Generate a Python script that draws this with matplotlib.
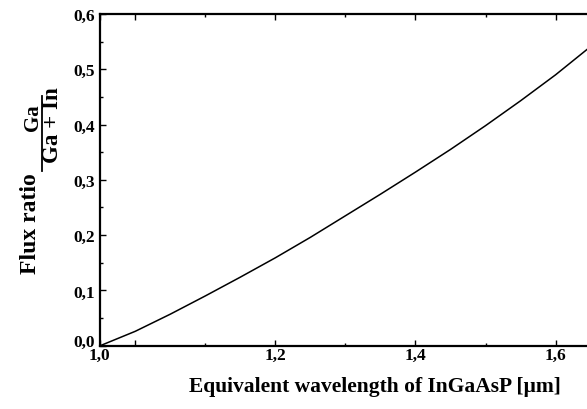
import numpy as np
import matplotlib
matplotlib.use('Agg')
import matplotlib.pyplot as plt
from matplotlib.ticker import MultipleLocator, FixedLocator
from matplotlib.lines import Line2D

matplotlib.rcParams['font.family'] = 'Liberation Serif'
matplotlib.rcParams['font.weight'] = 'bold'

# curve (wavelength in um, Ga flux ratio)
wl = [0.95, 1.00, 1.05, 1.10, 1.15, 1.20, 1.25, 1.30, 1.35, 1.40,
      1.45, 1.50, 1.55, 1.60, 1.645]
ratio = [0.000, 0.026, 0.057, 0.090, 0.124, 0.159, 0.196, 0.235, 0.274,
         0.314, 0.355, 0.398, 0.443, 0.490, 0.536]

xticks = [0.949, 1.0, 1.2, 1.4, 1.6]
xticklabels = ['1,0', '', '1,2', '1,4', '1,6']
yticks = [0.0, 0.1, 0.2, 0.3, 0.4, 0.5, 0.6]
yticklabels = ['0,0', '0,1', '0,2', '0,3', '0,4', '0,5', '0,6']

W, H = 587., 410.
fig = plt.figure(figsize=(W/100, H/100), dpi=100, facecolor='w')
ax = fig.add_axes([99.5/W, 63.3/H, (592-99.5)/W, 331.7/H])

ax.plot(wl, ratio, 'k-', lw=1.1)

ax.set_xlim(0.949, 1.652)
ax.set_ylim(0, 0.6)

ax.xaxis.set_major_locator(FixedLocator(xticks))
ax.set_xticklabels(xticklabels)
ax.xaxis.set_minor_locator(FixedLocator([1.1, 1.3, 1.5]))
ax.set_yticks(yticks)
ax.set_yticklabels(yticklabels)
ax.yaxis.set_minor_locator(MultipleLocator(0.05))

ax.tick_params(which='both', direction='in', top=True, right=False, width=1.0,
               labelsize=12.5)
ax.tick_params(which='major', length=4.5)
ax.tick_params(which='minor', length=2)
ax.tick_params(axis='x', pad=1.0)
ax.tick_params(axis='y', pad=3)
# the "0,0" label sits just above the corner
ax.get_yticklabels()[0].set_va('baseline')

for s in ['left', 'top', 'bottom']:
    ax.spines[s].set_linewidth(1.6)
ax.spines['right'].set_visible(False)

# x label
fig.text(375/W, 1-387/H, 'Equivalent wavelength of InGaAsP [\u00b5m]',
         fontsize=15.5, fontweight='bold', ha='center', va='center')

# y label: "Flux ratio" followed by the fraction Ga / (Ga + In)
fig.text(31/W, 1-224/H, 'Flux ratio', rotation=90, fontsize=17,
         fontweight='bold', ha='center', va='center')
fig.text(33/W, 1-118/H, 'Ga', rotation=90, fontsize=15,
         fontweight='bold', ha='center', va='center')
fig.text(53/W, 1-125/H, 'Ga + In', rotation=90, fontsize=16.5,
         fontweight='bold', ha='center', va='center')
fig.add_artist(Line2D([41.5/W, 41.5/W], [1-97/H, 1-172/H], color='k', lw=1.3,
                      transform=fig.transFigure))

fig.savefig('out.png', dpi=100)
